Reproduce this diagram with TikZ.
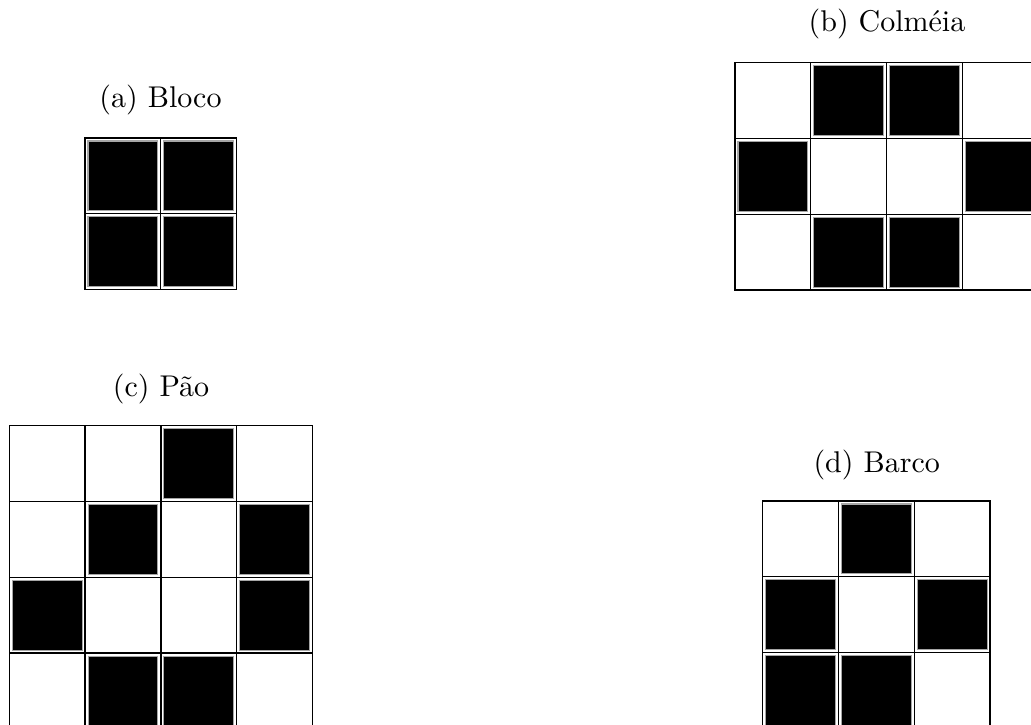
\documentclass[tikz,border=0pt]{standalone}
\begin{document}
\begin{tikzpicture}[x=0.3333pt,y=-0.3333pt,
  gridline/.style={draw=black,line width=0.45pt},
  livecell/.style={fill=black,draw=gray!70,line width=0.35pt},
  caption/.style={inner sep=0pt,font=\fontsize{10}{12}\selectfont}]
\useasboundingbox (0,0) rectangle (1031,724);
\clip (0,0) rectangle (1031,724);
\newcommand\golgrid[5]{%
  \foreach \c in {1,...,#3}{\foreach \r in {1,...,#4}{%
    \draw[gridline] ({#1+(\c-1)*75.8},{#2+(\r-1)*75.8}) rectangle ++(75.8,75.8);}}
  \foreach \c/\r in {#5}{%
    \draw[livecell] ({#1+(\c-1)*75.8+3},{#2+(\r-1)*75.8+3}) rectangle ++(69.8,69.8);}
}
% (a) Bloco
\node[caption] (capA) at (160.5,100) {(a) Bloco};
\golgrid{85}{138}{2}{2}{1/1,2/1,1/2,2/2}
% (b) Colmeia
\node[caption] (capB) at (887,24) {(b) Colméia};
\golgrid{735}{62.7}{4}{3}{2/1,3/1,1/2,4/2,2/3,3/3}
% (c) Pao
\node[caption] (capC) at (161,389) {(c) Pão};
\golgrid{9.3}{425.7}{4}{4}{3/1,2/2,4/2,1/3,4/3,2/4,3/4}
% (d) Barco
\node[caption] (capD) at (876.7,465) {(d) Barco};
\golgrid{762.7}{501}{3}{3}{2/1,1/2,3/2,1/3,2/3}
\end{tikzpicture}
\end{document}
